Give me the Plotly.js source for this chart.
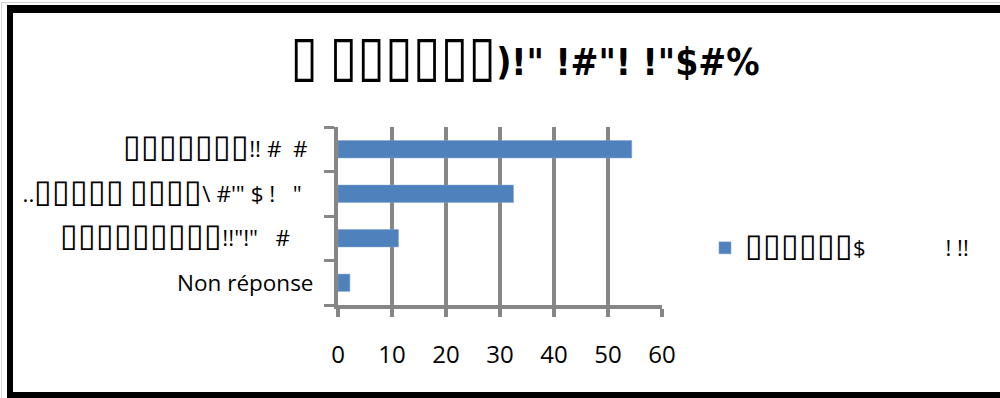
<!DOCTYPE html>
<html>
<head>
<meta charset="utf-8">
<script src="https://cdn.plot.ly/plotly-3.0.1.min.js"></script>
<style>
  html, body { margin: 0; padding: 0; width: 1000px; height: 398px; overflow: hidden; background: #fff; }
  #chart { position: absolute; left: 0; top: 0; width: 1000px; height: 398px; }
  #frame { position: absolute; left: 7px; top: 5px; width: 1100px; height: 379px;
           border-top: 8px solid #000; border-left: 6px solid #000; border-bottom: 6px solid #000;
           pointer-events: none; }
  #frame2 { position: absolute; left: 1px; top: 2px; width: 1100px; height: 400px;
           border-top: 1px solid #d4d4d4; border-left: 1px solid #d4d4d4; pointer-events: none; }
</style>
</head>
<body>
<div id="chart"></div>
<div id="frame2"></div>
<div id="frame"></div>
<script>
const B = "\u25AF";
const NB = "\u00a0";
function boxes(n, size) { return '<span style="font-size:' + size + 'px;font-weight:normal">' + B.repeat(n) + '</span>'; }
const titleText = boxes(1, 56) + " " + boxes(6, 56) + ")!\" !#\"! !\"$#%";
const categories = [
  "Non réponse",
  boxes(9, 32) + "!!\"!\"" + NB + NB + NB + "#" + NB + NB + NB + NB,
  ".." + boxes(5, 32) + " " + boxes(4, 32) + "\\ #'\" $ !" + NB + NB + NB + "\"" + NB + NB,
  boxes(7, 32) + "!! #" + NB + NB + "#" + NB
];
const values = [2.2, 11.2, 32.5, 54.4];
const seriesName = boxes(6, 32) + "$" + NB.repeat(14) + "! !!";
const xTicks = [0, 10, 20, 30, 40, 50, 60];

const gray = "#868686";
const trace = {
  type: "bar",
  orientation: "h",
  x: values,
  y: categories,
  name: seriesName,
  marker: { color: "#4F81BD", line: { color: "#7EA2D0", width: 0.5 } },
  showlegend: true,
  hoverinfo: "x+y"
};

const layout = {
  width: 1000,
  height: 398,
  margin: { l: 338, r: 338, t: 127, b: 93, autoexpand: false },
  paper_bgcolor: "rgba(0,0,0,0)",
  plot_bgcolor: "rgba(0,0,0,0)",
  bargap: 0.61,
  title: {
    text: titleText,
    x: 0.525, xref: "container", xanchor: "center",
    y: 0.845, yref: "container", yanchor: "middle",
    font: { family: "DejaVu Sans Condensed, DejaVu Sans, sans-serif", size: 37, color: "#000", weight: "bold" }
  },
  xaxis: {
    range: [0, 60],
    tickvals: xTicks,
    ticktext: xTicks.map(String),
    ticks: "outside", ticklen: 8, tickwidth: 4, tickcolor: gray,
    showgrid: true, gridcolor: gray, gridwidth: 3.5,
    showline: true, linecolor: gray, linewidth: 4,
    zeroline: false,
    ticklabelstandoff: 17,
    tickfont: { family: "Open Sans, sans-serif", size: 24, color: "#000" },
    fixedrange: true, automargin: false
  },
  yaxis: {
    type: "category",
    categoryorder: "array",
    categoryarray: categories,
    tickson: "boundaries",
    ticks: "outside", ticklen: 10, tickwidth: 3, tickcolor: gray,
    showgrid: false,
    showline: true, linecolor: gray, linewidth: 4,
    zeroline: false,
    ticklabelstandoff: 16,
    tickfont: { family: "Open Sans, sans-serif", size: 22.5, color: "#000" },
    fixedrange: true, automargin: false
  },
  legend: {
    x: 0.705, xref: "container", xanchor: "left",
    y: 0.32, yref: "paper", yanchor: "middle",
    font: { family: "Open Sans, sans-serif", size: 22, color: "#000" },
    bgcolor: "rgba(0,0,0,0)"
  },
  showlegend: true
};

Plotly.newPlot("chart", [trace], layout, { displayModeBar: false, staticPlot: true });
</script>
</body>
</html>
